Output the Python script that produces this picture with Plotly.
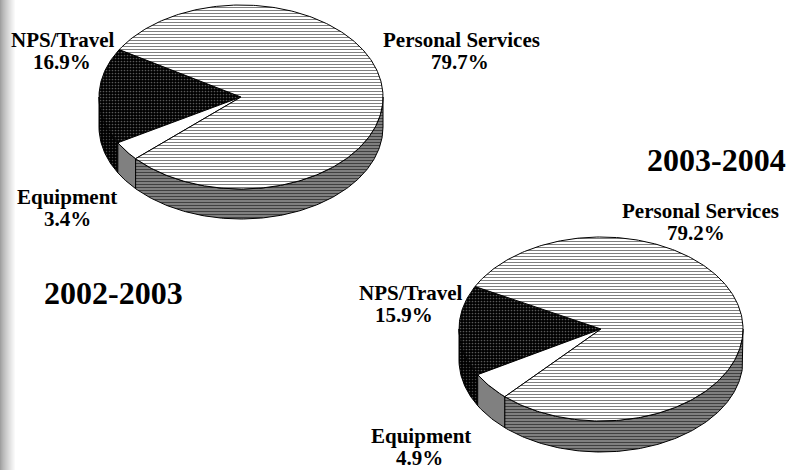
import numpy as np
import plotly.graph_objects as go

# ---------------- data ----------------
categories = ["NPS/Travel", "Equipment", "Personal Services"]
values_2002 = [16.9, 3.4, 79.7]
values_2003 = [15.9, 4.9, 79.2]
year_labels = ["2002-2003", "2003-2004"]

# ---------------- styles ----------------
FONT = "Liberation Serif, Times New Roman, serif"
top_style = {
    "NPS/Travel": dict(fillcolor="black",
                       fillpattern=dict(shape=".", bgcolor="black", fgcolor="#b0b0b0", size=3, solidity=0.25)),
    "Equipment": dict(fillcolor="white"),
    "Personal Services": dict(fillcolor="white",
                              fillpattern=dict(shape="-", bgcolor="white", fgcolor="black", size=3, solidity=0.34)),
}
side_style = {
    "NPS/Travel": dict(fillcolor="black",
                       fillpattern=dict(shape=".", bgcolor="black", fgcolor="#909090", size=3, solidity=0.2)),
    "Equipment": dict(fillcolor="#808080"),
    "Personal Services": dict(fillcolor="#808080",
                              fillpattern=dict(shape="-", bgcolor="#808080", fgcolor="black", size=3, solidity=0.34)),
}

fig = go.Figure()


def arc(cx, cy, rx, ry, a0, a1, dy=0.0, n=None):
    if n is None:
        n = max(4, int(abs(a1 - a0) / 1.0) + 2)
    t = np.radians(np.linspace(a0, a1, n))
    return cx + rx * np.cos(t), cy - ry * np.sin(t) + dy


def add_pie(values, cx, cy, rx, ry, depth, start):
    spans = []
    a = start
    for cat, v in zip(categories, values):
        b = a + v * 3.6
        spans.append((cat, a, b))
        a = b
    # side walls (front half: 180..360 deg, and wrap 540..720)
    for cat, a0, a1 in spans:
        for lo, hi in ((180, 360), (540, 720)):
            s0, s1 = max(a0, lo), min(a1, hi)
            if s1 > s0:
                xt, yt = arc(cx, cy, rx, ry, s0, s1)
                xb, yb = arc(cx, cy, rx, ry, s1, s0, dy=depth)
                xs = np.concatenate([xt, xb, xt[:1]])
                ys = np.concatenate([yt, yb, yt[:1]])
                fig.add_trace(go.Scatter(x=xs, y=ys, mode="lines", fill="toself",
                                         line=dict(color="black", width=1),
                                         hoverinfo="skip", showlegend=False,
                                         **side_style[cat]))
    # top faces
    for cat, a0, a1 in spans:
        xa, ya = arc(cx, cy, rx, ry, a0, a1)
        xs = np.concatenate([[cx], xa, [cx]])
        ys = np.concatenate([[cy], ya, [cy]])
        fig.add_trace(go.Scatter(x=xs, y=ys, mode="lines", fill="toself",
                                 line=dict(color="black", width=1),
                                 hoverinfo="skip", showlegend=False,
                                 **top_style[cat]))


add_pie(values_2002, 241, 97, 142, 92, 30, 149)
add_pie(values_2003, 601, 329, 142, 92, 31, 152.5)

# ---------------- labels ----------------
label_pos_2002 = {"NPS/Travel": (63, 40, 62, 62),
                  "Equipment": (67, 197, 67, 219),
                  "Personal Services": (461, 40, 460, 62)}
label_pos_2003 = {"NPS/Travel": (411, 293, 404, 315),
                  "Equipment": (421, 436, 419, 458),
                  "Personal Services": (700, 211, 696, 233)}

annotations = []
for vals, pos in ((values_2002, label_pos_2002), (values_2003, label_pos_2003)):
    for cat, v in zip(categories, vals):
        x1, y1, x2, y2 = pos[cat]
        annotations.append(dict(x=x1, y=y1, text=f"<b>{cat}</b>", showarrow=False,
                                xanchor="center", yanchor="middle",
                                font=dict(family=FONT, size=21, color="black")))
        annotations.append(dict(x=x2, y=y2, text=f"<b>{v}%</b>", showarrow=False,
                                xanchor="center", yanchor="middle",
                                font=dict(family=FONT, size=21, color="black")))

for txt, (x, y) in zip(year_labels, [(113, 293), (716, 160)]):
    annotations.append(dict(x=x, y=y, text=f"<b>{txt}</b>", showarrow=False,
                            xanchor="center", yanchor="middle",
                            font=dict(family=FONT, size=32, color="black")))

# left grey gradient strip
shapes = []
for i in range(16):
    g = int(160 + (255 - 160) * (i / 15) ** 0.8)
    shapes.append(dict(type="rect", xref="x", yref="y", x0=i, x1=i + 1, y0=0, y1=470,
                       line=dict(width=0), fillcolor=f"rgb({g},{g},{g})", layer="below"))

fig.update_layout(
    width=786, height=470,
    margin=dict(l=0, r=0, t=0, b=0),
    paper_bgcolor="white", plot_bgcolor="white",
    xaxis=dict(range=[0, 786], visible=False, fixedrange=True),
    yaxis=dict(range=[470, 0], visible=False, fixedrange=True),
    annotations=annotations, shapes=shapes,
    showlegend=False,
)

fig.write_html("out.html", config={"displayModeBar": False},
               post_script="document.body.style.margin='0';document.body.style.overflow='hidden';")
